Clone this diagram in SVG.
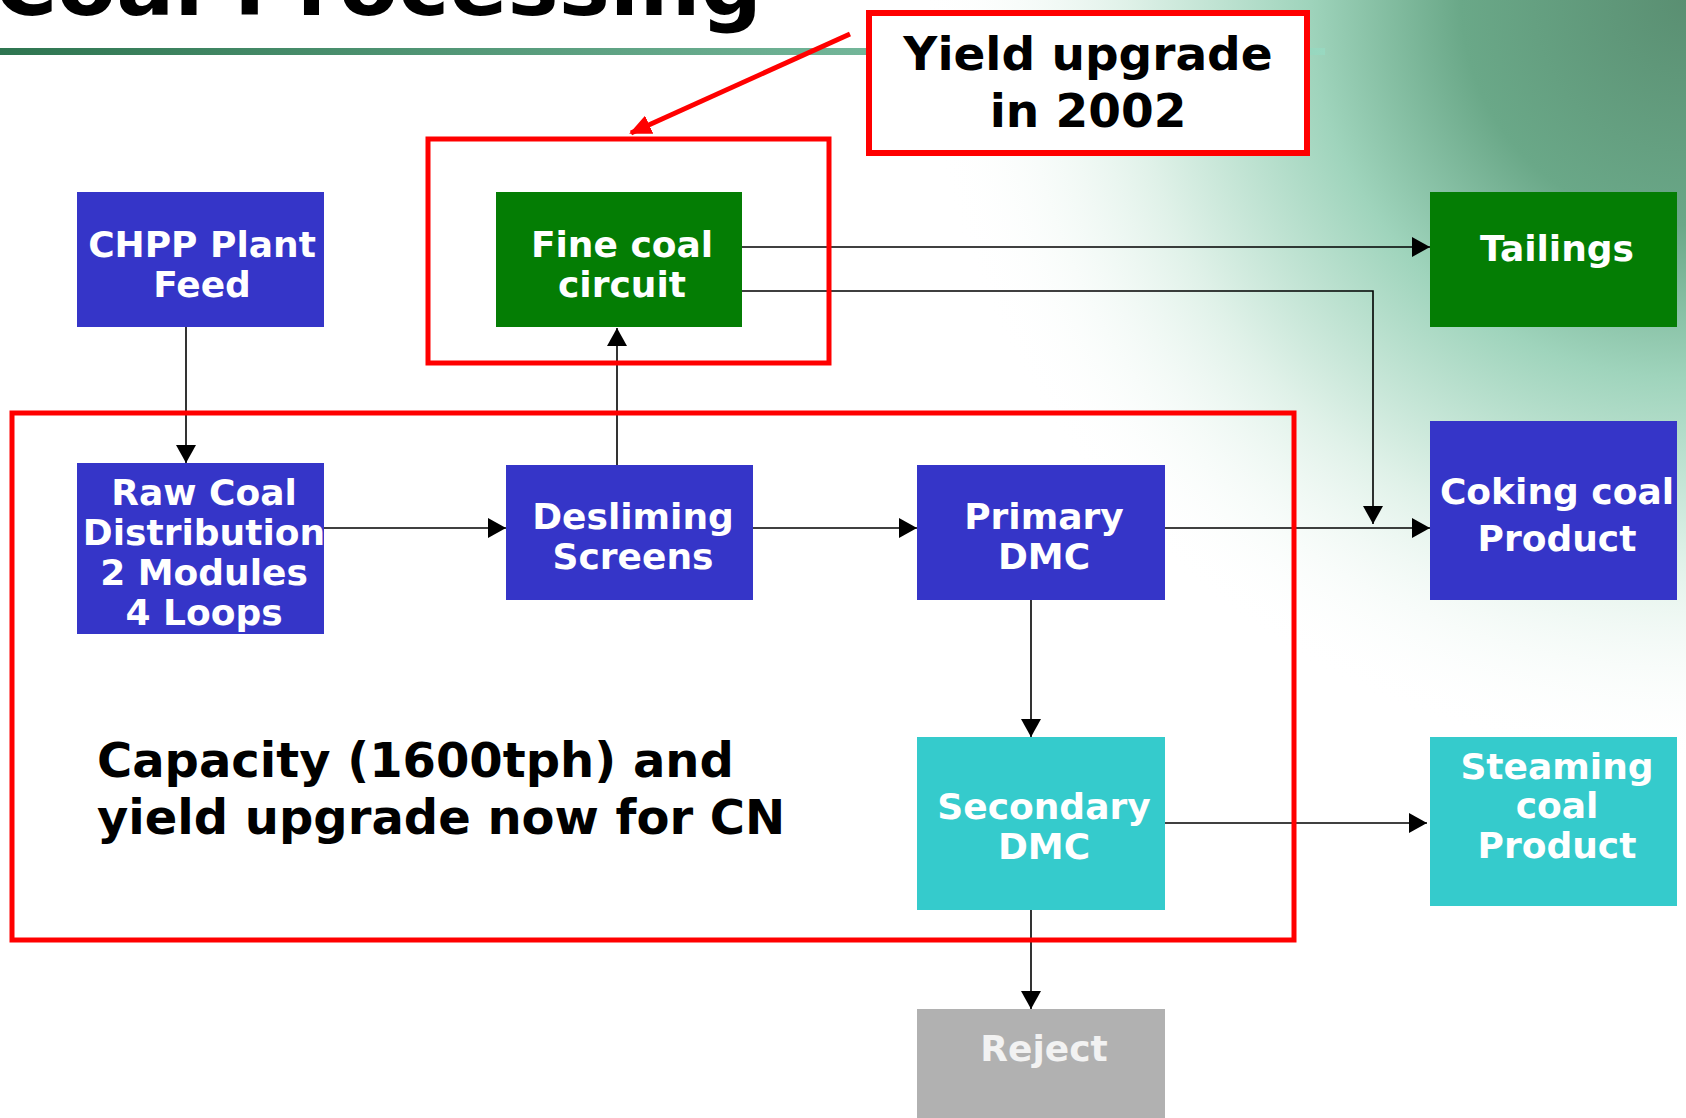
<svg xmlns="http://www.w3.org/2000/svg" width="1686" height="1118" viewBox="0 0 1686 1118">
<defs>
<radialGradient id="photo" cx="1686" cy="0" r="900" gradientUnits="userSpaceOnUse">
<stop offset="0" stop-color="#5a8f72"/>
<stop offset="0.25" stop-color="#6aa888"/>
<stop offset="0.42" stop-color="#9fd4bc"/>
<stop offset="0.62" stop-color="#dff1e8"/>
<stop offset="0.85" stop-color="#ffffff" stop-opacity="0"/>
</radialGradient>
<linearGradient id="rule" x1="0" y1="0" x2="1" y2="0">
<stop offset="0" stop-color="#2e7550"/>
<stop offset="1" stop-color="#98d8c0"/>
</linearGradient>
<marker id="ah" markerUnits="userSpaceOnUse" markerWidth="18" markerHeight="20" refX="18" refY="10" orient="auto">
<path d="M0,0 L18,10 L0,20 z" fill="#000"/>
</marker>
<marker id="rah" markerUnits="userSpaceOnUse" markerWidth="22" markerHeight="20" refX="20" refY="10" orient="auto">
<path d="M0,0 L22,10 L0,20 z" fill="#ff0000"/>
</marker>
<style>
.nt{font-family:"DejaVu Sans","Verdana",sans-serif;font-weight:bold;font-size:36px;fill:#ffffff;text-anchor:middle}
.blue{fill:#3535c8}
.green{fill:#047d04}
.cyan{fill:#35cbcc}
.grey{fill:#b1b1b1}
.con{stroke:#000;stroke-width:1.6;fill:none;marker-end:url(#ah)}
.red{stroke:#ff0000;fill:none}
.big{font-family:"DejaVu Sans","Verdana",sans-serif;font-weight:bold;fill:#000}
</style>
</defs>
<rect x="0" y="0" width="1686" height="1118" fill="#ffffff"/>
<rect x="800" y="0" width="886" height="900" fill="url(#photo)"/>
<rect x="0" y="48" width="1325" height="7" fill="url(#rule)"/>
<text class="big" x="-6" y="15" font-size="86">Coal Processing</text>

<g id="connectors">
<line class="con" x1="186" y1="327" x2="186" y2="463"/>
<line class="con" x1="324" y1="528" x2="506" y2="528"/>
<line class="con" x1="617" y1="465" x2="617" y2="328"/>
<line class="con" x1="753" y1="528" x2="917" y2="528"/>
<line class="con" x1="1165" y1="528" x2="1430" y2="528"/>
<line class="con" x1="742" y1="247" x2="1430" y2="247"/>
<polyline class="con" points="742,291 1373,291 1373,524"/>
<line class="con" x1="1031" y1="600" x2="1031" y2="737"/>
<line class="con" x1="1165" y1="823" x2="1427" y2="823"/>
<line class="con" x1="1031" y1="910" x2="1031" y2="1009"/>
</g>

<g id="upgrade-frame-fine"><rect class="red" x="428" y="139" width="401" height="224" stroke-width="5"/></g>
<g id="upgrade-frame-main"><rect class="red" x="12" y="413" width="1282" height="527" stroke-width="5"/></g>

<g id="chpp"><rect class="blue" x="77" y="192" width="247" height="135"/>
<text class="nt" x="202" y="257">CHPP Plant</text><text class="nt" x="202" y="297">Feed</text></g>
<g id="fine"><rect class="green" x="496" y="192" width="246" height="135"/>
<text class="nt" x="622" y="257">Fine coal</text><text class="nt" x="622" y="297">circuit</text></g>
<g id="tailings"><rect class="green" x="1430" y="192" width="247" height="135"/>
<text class="nt" x="1557" y="261">Tailings</text></g>
<g id="raw"><rect class="blue" x="77" y="463" width="247" height="171"/>
<text class="nt" x="204" y="505">Raw Coal</text><text class="nt" x="204" y="545">Distribution</text><text class="nt" x="204" y="585">2 Modules</text><text class="nt" x="204" y="625">4 Loops</text></g>
<g id="desliming"><rect class="blue" x="506" y="465" width="247" height="135"/>
<text class="nt" x="633" y="529">Desliming</text><text class="nt" x="633" y="569">Screens</text></g>
<g id="primary"><rect class="blue" x="917" y="465" width="248" height="135"/>
<text class="nt" x="1044" y="529">Primary</text><text class="nt" x="1044" y="569">DMC</text></g>
<g id="coking"><rect class="blue" x="1430" y="421" width="247" height="179"/>
<text class="nt" x="1557" y="504">Coking coal</text><text class="nt" x="1557" y="551">Product</text></g>
<g id="secondary"><rect class="cyan" x="917" y="737" width="248" height="173"/>
<text class="nt" x="1044" y="819">Secondary</text><text class="nt" x="1044" y="859">DMC</text></g>
<g id="steaming"><rect class="cyan" x="1430" y="737" width="247" height="169"/>
<text class="nt" x="1557" y="779">Steaming</text><text class="nt" x="1557" y="818">coal</text><text class="nt" x="1557" y="858">Product</text></g>
<g id="reject"><rect class="grey" x="917" y="1009" width="248" height="109"/>
<text class="nt" x="1044" y="1061" style="fill:#f2f2f2">Reject</text></g>

<g id="yield-note"><rect x="869" y="13" width="438" height="140" fill="#ffffff" stroke="#ff0000" stroke-width="6"/>
<text class="big" x="1088" y="70" font-size="47" text-anchor="middle">Yield upgrade</text>
<text class="big" x="1088" y="127" font-size="47" text-anchor="middle">in 2002</text></g>
<g id="yield-arrow"><line x1="850" y1="34" x2="631" y2="133" stroke="#ff0000" stroke-width="5" marker-end="url(#rah)"/></g>

<g id="capacity-note">
<text class="big" x="97" y="777" font-size="48">Capacity (1600tph) and</text>
<text class="big" x="97" y="834" font-size="48">yield upgrade now for CN</text></g>
</svg>
